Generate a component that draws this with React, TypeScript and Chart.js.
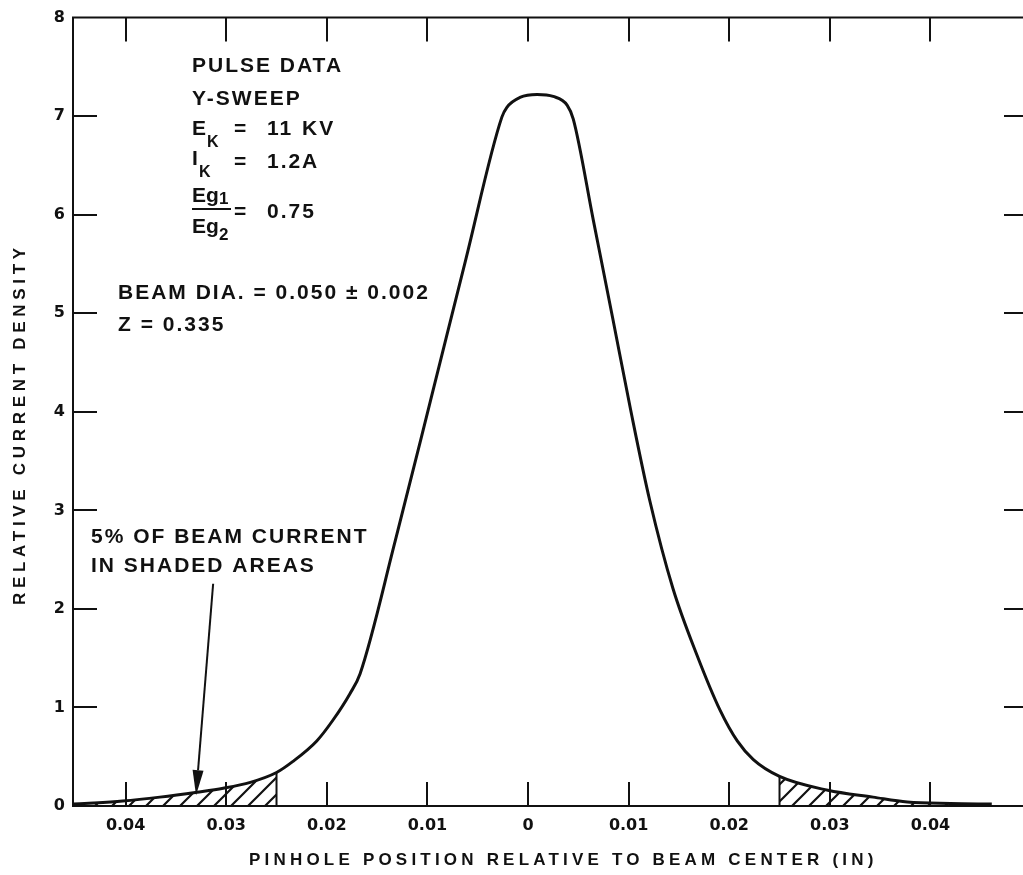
import React, { useEffect, useRef } from 'react';
import { Chart, registerables } from 'chart.js';

Chart.register(...registerables);

// ---------- data ----------
const positions = [
  -0.0452, -0.0432, -0.0403, -0.0366, -0.0329, -0.0303, -0.0276, -0.025, -0.0234, -0.021,
  -0.0194, -0.0177, -0.0167, -0.0132, -0.0097, -0.0062, -0.0026, -0.0021, -0.0008, 0.0009,
  0.0025, 0.0039, 0.0045, 0.0065, 0.0084, 0.0102, 0.0121, 0.0144, 0.0168, 0.0191,
  0.0208, 0.0224, 0.025, 0.0298, 0.0343, 0.0377, 0.042, 0.0461,
];
const density = [
  0.02, 0.03, 0.05, 0.09, 0.14, 0.18, 0.24, 0.34, 0.45, 0.66,
  0.87, 1.14, 1.34, 2.69, 4.11, 5.54, 6.99, 7.09, 7.19, 7.22,
  7.2, 7.11, 6.97, 5.94, 4.96, 4.02, 3.1, 2.21, 1.53, 0.97,
  0.66, 0.47, 0.3, 0.16, 0.09, 0.04, 0.025, 0.02,
];
const xTickValues = [-0.04, -0.03, -0.02, -0.01, 0, 0.01, 0.02, 0.03, 0.04];
const xTickLabels = ['0.04', '0.03', '0.02', '0.01', '0', '0.01', '0.02', '0.03', '0.04'];
const yTickValues = [0, 1, 2, 3, 4, 5, 6, 7, 8];
const shadeLimit = 0.025;
const arrowTail = { x: -0.0313, y: 2.255 };
const arrowTip = { x: -0.033, y: 0.11 };

const xTitle = 'PINHOLE POSITION RELATIVE TO BEAM CENTER (IN)';
const yTitle = 'RELATIVE CURRENT DENSITY';

// annotation text runs: text, x, baseline y, font size, letter spacing
const notes: [string, number, number, number, number][] = [
  ['PULSE DATA', 192, 72, 21, 2],
  ['Y-SWEEP', 192, 105, 21, 2],
  ['E', 192, 135, 21, 0],
  ['K', 207, 147, 16, 0],
  ['=', 234, 135, 21, 0],
  ['11', 267, 135, 21, 2],
  ['KV', 302, 135, 21, 2],
  ['I', 192, 165, 21, 0],
  ['K', 199, 177, 16, 0],
  ['=', 234, 168, 21, 0],
  ['1.2', 267, 168, 21, 2],
  ['A', 302, 168, 21, 0],
  ['Eg', 192, 202, 21, 0],
  ['1', 219, 204, 17, 0],
  ['=', 234, 218, 21, 0],
  ['0.75', 267, 218, 21, 2],
  ['Eg', 192, 233, 21, 0],
  ['2', 219, 240, 17, 0],
  ['BEAM DIA. = 0.050 \u00b1 0.002', 118, 299, 21, 2],
  ['Z = 0.335', 118, 331, 21, 2],
  ['5% OF BEAM CURRENT', 91, 543, 21, 2],
  ['IN SHADED AREAS', 91, 572, 21, 2],
];

const INK = '#111';
const SANS = '"Liberation Sans", Arial, sans-serif';

function makeHatch(): CanvasPattern | string {
  const S = 17;
  const c = document.createElement('canvas');
  c.width = S;
  c.height = S;
  const g = c.getContext('2d');
  if (!g) return INK;
  g.strokeStyle = INK;
  g.lineWidth = 2.2;
  g.beginPath();
  g.moveTo(-2, S + 2);
  g.lineTo(S + 2, -2);
  g.moveTo(-2, 2);
  g.lineTo(2, -2);
  g.moveTo(S - 2, S + 2);
  g.lineTo(S + 2, S - 2);
  g.stroke();
  const p = g.createPattern(c, 'repeat');
  return p || INK;
}

const overlay = {
  id: 'overlay',
  afterDraw(chart: any) {
    const { ctx, chartArea: a, scales } = chart;
    const x = scales.x;
    const y = scales.y;
    ctx.save();
    ctx.strokeStyle = INK;
    ctx.fillStyle = INK;
    ctx.lineWidth = 2;
    // top & right frame
    ctx.beginPath();
    ctx.moveTo(a.left - 1, a.top);
    ctx.lineTo(a.right, a.top);
    ctx.lineTo(a.right, a.bottom);
    ctx.stroke();
    // inward tick marks
    const TL = 24;
    ctx.beginPath();
    x.ticks.forEach((t: any) => {
      const px = Math.round(x.getPixelForValue(t.value));
      ctx.moveTo(px, a.bottom);
      ctx.lineTo(px, a.bottom - TL);
      ctx.moveTo(px, a.top);
      ctx.lineTo(px, a.top + TL);
    });
    y.ticks.forEach((t: any) => {
      if (t.value <= 0 || t.value >= 8) return;
      const py = Math.round(y.getPixelForValue(t.value));
      ctx.moveTo(a.left, py);
      ctx.lineTo(a.left + TL, py);
      ctx.moveTo(a.right, py);
      ctx.lineTo(a.right - TL, py);
    });
    ctx.stroke();

    // arrow
    const tx = x.getPixelForValue(arrowTail.x);
    const ty = y.getPixelForValue(arrowTail.y);
    const hx = x.getPixelForValue(arrowTip.x);
    const hy = y.getPixelForValue(arrowTip.y);
    const ang = Math.atan2(hy - ty, hx - tx);
    const HL = 25;
    const HW = 5.5;
    const bx = hx - HL * Math.cos(ang);
    const by = hy - HL * Math.sin(ang);
    ctx.beginPath();
    ctx.moveTo(tx, ty);
    ctx.lineTo(bx, by);
    ctx.stroke();
    ctx.beginPath();
    ctx.moveTo(hx, hy);
    ctx.lineTo(bx + HW * Math.sin(ang), by - HW * Math.cos(ang));
    ctx.lineTo(bx - HW * Math.sin(ang), by + HW * Math.cos(ang));
    ctx.closePath();
    ctx.fill();

    // text
    ctx.textAlign = 'left';
    ctx.textBaseline = 'alphabetic';
    notes.forEach(([t, nx, ny, s, sp]) => {
      ctx.font = `bold ${s}px ${SANS}`;
      (ctx as any).letterSpacing = `${sp}px`;
      ctx.fillText(t, nx, ny);
    });
    // fraction bar
    ctx.beginPath();
    ctx.moveTo(192, 209);
    ctx.lineTo(231, 209);
    ctx.stroke();

    // axis titles
    ctx.font = `bold 17px ${SANS}`;
    (ctx as any).letterSpacing = '4.2px';
    ctx.fillText(xTitle, 249, 865);
    (ctx as any).letterSpacing = '4.7px';
    ctx.translate(25, 605);
    ctx.rotate(-Math.PI / 2);
    ctx.fillText(yTitle, 0, 0);
    ctx.restore();
  },
};

export default function App() {
  const ref = useRef<HTMLCanvasElement>(null);
  useEffect(() => {
    const canvas = ref.current;
    if (!canvas) return;
    const hatch = makeHatch();
    const pts = positions.map((px, i) => ({ x: px, y: density[i] }));
    const leftTail = pts.filter((p) => p.x <= -shadeLimit + 1e-9);
    const rightTail = pts.filter((p) => p.x >= shadeLimit - 1e-9);
    const leftEdge = [
      { x: -shadeLimit, y: 0 },
      { x: -shadeLimit, y: leftTail[leftTail.length - 1].y },
    ];
    const rightEdge = [
      { x: shadeLimit, y: 0 },
      { x: shadeLimit, y: rightTail[0].y },
    ];
    const tickFont = { family: '"DejaVu Sans", sans-serif', weight: 'bold' as const, size: 16 };
    const chart = new Chart(canvas, {
      type: 'line',
      data: {
        datasets: [
          {
            data: leftTail,
            borderWidth: 0,
            pointRadius: 0,
            fill: 'origin',
            backgroundColor: hatch as any,
            cubicInterpolationMode: 'monotone',
          },
          {
            data: rightTail,
            borderWidth: 0,
            pointRadius: 0,
            fill: 'origin',
            backgroundColor: hatch as any,
            cubicInterpolationMode: 'monotone',
          },
          { data: leftEdge, borderColor: INK, borderWidth: 2, pointRadius: 0, fill: false },
          { data: rightEdge, borderColor: INK, borderWidth: 2, pointRadius: 0, fill: false },
          {
            data: pts,
            borderColor: INK,
            borderWidth: 3,
            pointRadius: 0,
            fill: false,
            cubicInterpolationMode: 'monotone',
          },
        ],
      },
      options: {
        responsive: false,
        animation: false,
        devicePixelRatio: 1,
        layout: { padding: { top: 15, right: 12, left: 0, bottom: 0 } },
        plugins: { legend: { display: false }, tooltip: { enabled: false } },
        scales: {
          x: {
            type: 'linear',
            min: -0.04523,
            max: 0.0497,
            afterBuildTicks: (s: any) => {
              s.ticks = xTickValues.map((v) => ({ value: v }));
            },
            afterFit: (s: any) => {
              s.height = 69;
            },
            ticks: {
              callback: (_v: any, i: number) => xTickLabels[i],
              font: tickFont,
              color: INK,
              padding: 10,
              maxRotation: 0,
              autoSkip: false,
            },
            grid: { display: false, drawTicks: false },
            border: { display: true, color: INK, width: 2 },
          },
          y: {
            type: 'linear',
            min: 0,
            max: 8,
            afterBuildTicks: (s: any) => {
              s.ticks = yTickValues.map((v) => ({ value: v }));
            },
            afterFit: (s: any) => {
              s.width = 73;
            },
            ticks: {
              callback: (v: any) => String(v),
              font: tickFont,
              color: INK,
              padding: 8,
            },
            grid: { display: false, drawTicks: false },
            border: { display: true, color: INK, width: 2 },
          },
        },
      },
      plugins: [overlay],
    });
    return () => chart.destroy();
  }, []);
  return (
    <div
      style={{
        position: 'absolute',
        left: 0,
        top: 0,
        width: 1023,
        height: 875,
        overflow: 'hidden',
        background: '#fff',
      }}
    >
      <canvas ref={ref} width={1040} height={875} style={{ display: 'block', width: 1040, height: 875 }} />
    </div>
  );
}
